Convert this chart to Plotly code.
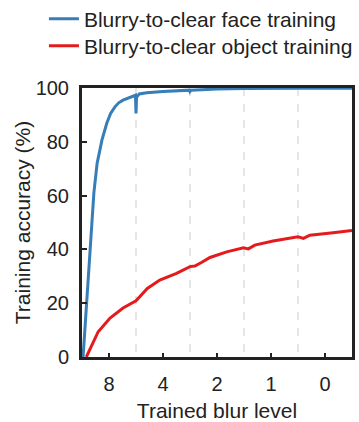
import plotly.graph_objects as go

# Data (x in units of training stage: 0..5, boundaries at 1,2,3,4)
face_x = [0.02, 0.10, 0.185, 0.22, 0.28, 0.37, 0.46, 0.53, 0.61, 0.68, 0.76, 0.85, 0.94, 0.99, 1.0, 1.01,
          1.06, 1.2, 1.5, 1.99, 2.0, 2.02, 2.5, 3.0, 4.0, 5.0]
face_y = [0, 26, 51, 61, 72, 80.7, 87, 90.5, 93, 94.5, 95.5, 96.2, 96.7, 97.3, 90.5, 96.5,
          97.8, 98.2, 98.7, 99.2, 98.7, 99.2, 99.6, 99.8, 99.9, 99.9]

obj_x = [0.08, 0.30, 0.52, 0.76, 1.0, 1.21, 1.44, 1.75, 2.0, 2.09, 2.22, 2.37, 2.68, 2.99, 3.08,
         3.2, 3.54, 4.0, 4.1, 4.22, 4.65, 5.0]
obj_y = [0, 9.4, 14.5, 18.2, 20.9, 25.5, 28.6, 31.1, 33.6, 33.8, 35.2, 37.0, 39.1, 40.6, 40.2,
         41.6, 43.1, 44.7, 44.1, 45.3, 46.2, 47.0]

blur_labels = ["8", "4", "2", "1", "0"]
blur_centers = [0.5, 1.5, 2.5, 3.5, 4.5]
stage_bounds = [1, 2, 3, 4]

FONT = "Liberation Sans, Arial, sans-serif"

fig = go.Figure()
fig.add_trace(go.Scatter(x=face_x, y=face_y, mode="lines", name="Blurry-to-clear face training",
                         line=dict(color="#377eb8", width=3), legend="legend"))
fig.add_trace(go.Scatter(x=obj_x, y=obj_y, mode="lines", name="Blurry-to-clear object training",
                         line=dict(color="#e41a1c", width=3), legend="legend2"))

leg_common = dict(x=-0.141, xanchor="left", yanchor="middle", bgcolor="rgba(0,0,0,0)",
                  font=dict(size=21), itemwidth=30)

fig.update_layout(
    width=359, height=422,
    margin=dict(l=82, r=7, t=88, b=65, autoexpand=False),
    paper_bgcolor="white", plot_bgcolor="white",
    font=dict(family=FONT, size=20, color="#222"),
    legend=dict(y=1.2565, **leg_common),
    legend2=dict(y=1.156, **leg_common),
    showlegend=True,
)
fig.update_xaxes(
    range=[0, 5], tickvals=blur_centers, ticktext=blur_labels,
    ticks="inside", ticklen=4, tickwidth=2, tickcolor="#222",
    showline=True, linewidth=3, linecolor="#222", mirror=True,
    showgrid=False, zeroline=False,
    ticklabelstandoff=7,
    minor=dict(tickvals=stage_bounds, showgrid=True, gridcolor="#e6e6e6", gridwidth=2,
               griddash="8px,8px", ticks=""),
    title=dict(text="Trained blur level", font=dict(size=21), standoff=16),
    tickfont=dict(size=20),
)
fig.update_yaxes(
    range=[0, 100], tickvals=[0, 20, 40, 60, 80, 100],
    ticks="inside", ticklen=5, tickwidth=2, tickcolor="#222",
    showline=True, linewidth=3, linecolor="#222", mirror=True,
    showgrid=False, zeroline=False,
    ticklabelstandoff=6,
    title=dict(text="Training accuracy (%)", font=dict(size=21), standoff=0),
    tickfont=dict(size=20),
)

fig.write_html("out.html")
